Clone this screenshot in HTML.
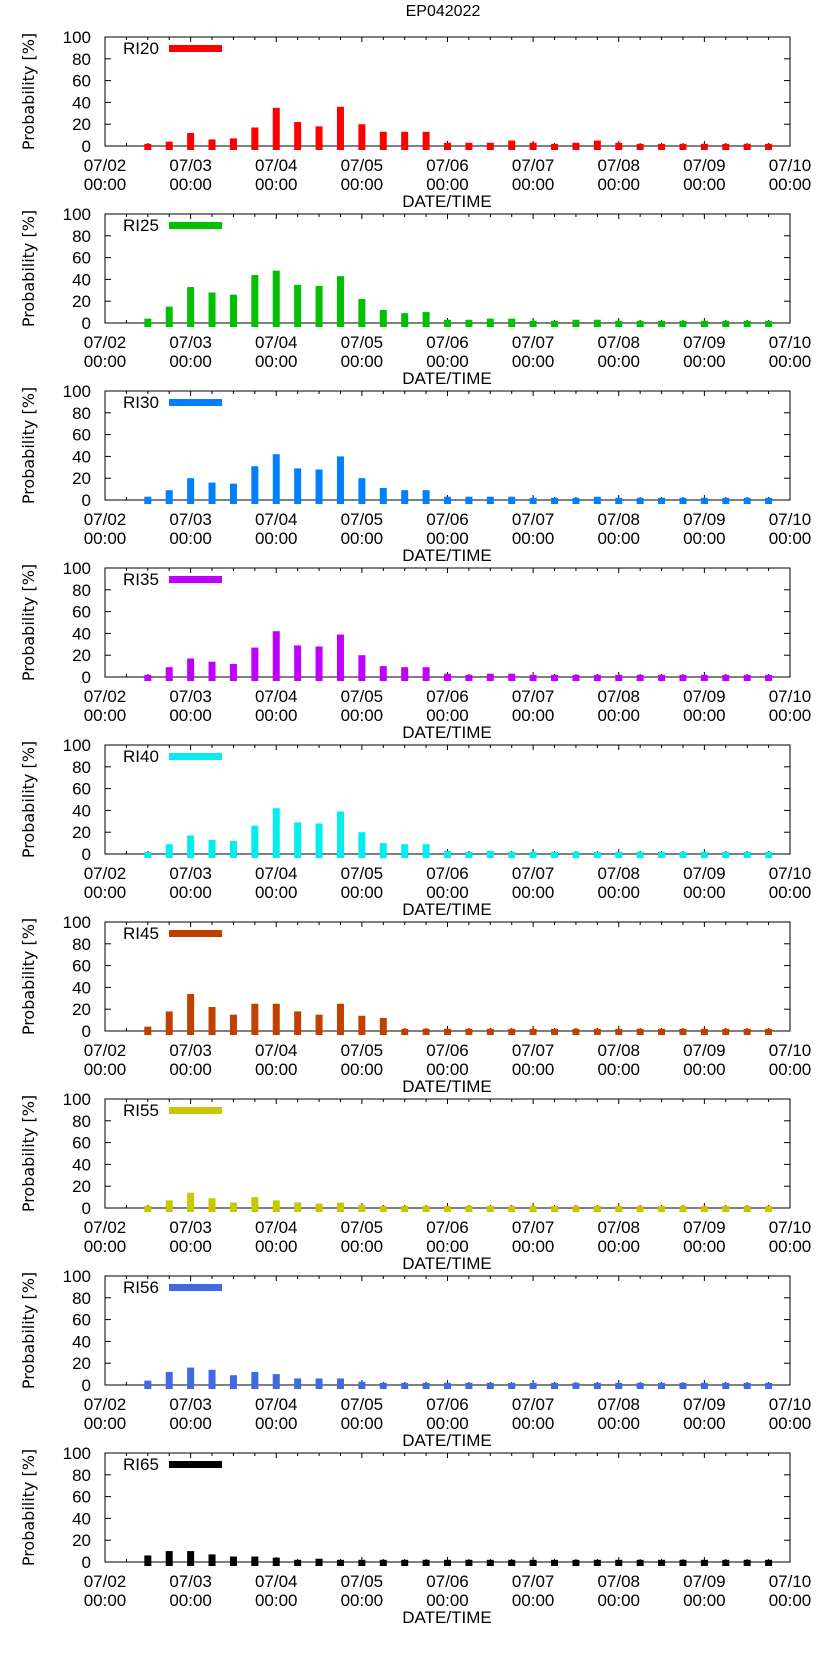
<!DOCTYPE html>
<html><head><meta charset="utf-8"><style>
html,body{margin:0;padding:0;background:#fff;}
svg{display:block;font-family:"DejaVu Sans","Liberation Sans",sans-serif;}
.lab{font-family:"Liberation Sans",sans-serif;}
</style></head><body>
<svg id="chart" width="822" height="1653" viewBox="0 0 822 1653" xmlns="http://www.w3.org/2000/svg">
<text class="lab" x="443" y="16" text-anchor="middle" font-size="16">EP042022</text>
</svg>
<script>
const seriesNames = ["RI20","RI25","RI30","RI35","RI40","RI45","RI55","RI56","RI65"];
const seriesColors = ["#ff0000","#00c000","#0080ff","#c000ff","#00eeee","#c04000","#c8c800","#4169e1","#000000"];
const ri20 = [2,4,12,6,7,17,35,22,18,36,20,13,13,13,3,3,3,5,3,2,3,5,3,2,2,2,2,2,2,2];
const ri25 = [4,15,33,28,26,44,48,35,34,43,22,12,9,10,3,3,4,4,2,2,3,3,2,2,2,2,2,2,2,2];
const ri30 = [3,9,20,16,15,31,42,29,28,40,20,11,9,9,3,3,3,3,2,2,2,3,2,2,2,2,2,2,2,2];
const ri35 = [2,9,17,14,12,27,42,29,28,39,20,10,9,9,3,2,3,3,2,2,2,2,2,2,2,2,2,2,2,2];
const ri40 = [2,9,17,13,12,26,42,29,28,39,20,10,9,9,3,2,3,2,2,2,2,2,2,2,2,2,2,2,2,2];
const ri45 = [4,18,34,22,15,25,25,18,15,25,14,12,2,2,2,2,2,2,2,2,2,2,2,2,2,2,2,2,2,2];
const ri55 = [2,7,14,9,5,10,7,5,4,5,3,2,2,2,2,2,2,2,2,2,2,2,2,2,2,2,2,2,2,2];
const ri56 = [4,12,16,14,9,12,10,6,6,6,3,2,2,2,2,2,2,2,2,2,2,2,2,2,2,2,2,2,2,2];
const ri65 = [6,10,10,7,5,5,4,2,3,2,2,2,2,2,2,2,2,2,2,2,2,2,2,2,2,2,2,2,2,2];
const seriesValues = [ri20,ri25,ri30,ri35,ri40,ri45,ri55,ri56,ri65];
const firstBarHours = 12;   // 07/02 12:00
const stepHours = 6;
const yTicks = [0,20,40,60,80,100];
const xTickDays = ["07/02","07/03","07/04","07/05","07/06","07/07","07/08","07/09","07/10"];

const NS="http://www.w3.org/2000/svg";
const svg=document.getElementById('chart');
const L=105,R=790,PH=109,PANEL=177,TOP0=37;
const totalHours=(xTickDays.length-1)*24;
function xs(h){return L+(R-L)*h/totalHours;}
function mk(tag,attrs,parent){const e=document.createElementNS(NS,tag);for(const k in attrs)e.setAttribute(k,attrs[k]);(parent||svg).appendChild(e);return e;}

seriesNames.forEach((name,p)=>{
  const top=TOP0+p*PANEL, bot=top+PH;
  const ys=v=>bot-PH*v/100;
  const g=mk('g',{});
  
  
  const frame=mk('rect',{x:L,y:top,width:R-L,height:PH,fill:'none',stroke:'#000','stroke-width':1},g);
  
  
  yTicks.forEach(t=>{
    const y=ys(t);
    mk('line',{x1:L,x2:L+6,y1:y,y2:y,stroke:'#000'},g);
    mk('line',{x1:R-6,x2:R,y1:y,y2:y,stroke:'#000'},g);
    const tx=mk('text',{class:'lab',x:91,y:y+6,'text-anchor':'end','font-size':17},g);
    tx.textContent=t;
    
    
  });
  for(let h=0;h<=totalHours;h+=stepHours){
    const x=xs(h), len=(h%24===0)?5:3;
    mk('line',{x1:x,x2:x,y1:bot,y2:bot-len,stroke:'#000'},g);
    mk('line',{x1:x,x2:x,y1:top,y2:top+len,stroke:'#000'},g);
  }
  xTickDays.forEach((d,i)=>{
    const x=xs(i*24);
    const t1=mk('text',{class:'lab',x:x,y:bot+25,'text-anchor':'middle','font-size':17},g);
    t1.textContent=d;
    
    
    const t2=mk('text',{class:'lab',x:x,y:bot+44,'text-anchor':'middle','font-size':17},g);
    t2.textContent='00:00';
    
    
  });
  const xt=mk('text',{class:'lab',x:447,y:bot+61,'text-anchor':'middle','font-size':17},g);
  xt.textContent='DATE/TIME';
  
  
  const yt=mk('text',{x:0,y:0,'text-anchor':'middle','font-size':16,transform:`translate(34,${top+PH/2}) rotate(-90)`},g);
  yt.textContent='Probability [%]';
  
  
  seriesValues[p].forEach((v,i)=>{
    const x=xs(firstBarHours+i*stepHours);
    const b=mk('rect',{x:x-3.5,y:ys(v),width:7,height:bot-ys(v)+4,fill:seriesColors[p]},g);
    
    
  });
  const lt=mk('text',{class:'lab',x:123,y:top+17,'font-size':17},g);
  lt.textContent=name;
  
  
  const ls=mk('rect',{x:169,y:top+8,width:53,height:7,fill:seriesColors[p]},g);
  
  
});
</script>
</body></html>
